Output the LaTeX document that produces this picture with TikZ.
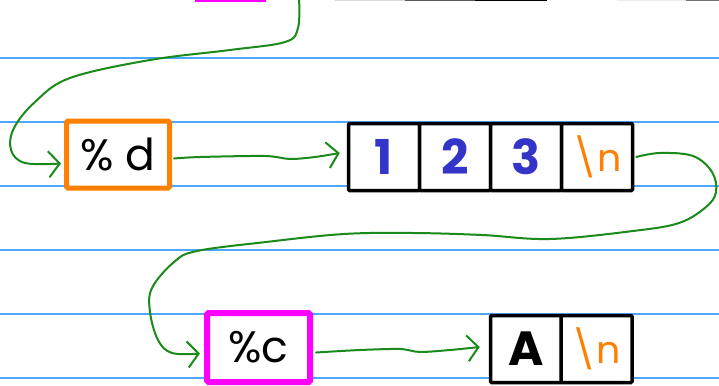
\documentclass[tikz,border=0pt]{standalone}
\usepackage{fontspec}
\setmainfont{Poppins}
\usetikzlibrary{arrows.meta}
\definecolor{ruleblue}{HTML}{4DA6FF}
\definecolor{orng}{HTML}{FF8000}
\definecolor{mag}{HTML}{FF00FF}
\definecolor{digblue}{HTML}{3434C8}
\definecolor{pen}{HTML}{1A8A1A}
\tikzset{
  fmtbox/.style={draw, fill=white, line width=5pt, rounded corners=1.5pt, minimum width=103pt, minimum height=67pt, inner sep=0pt, font=\fontsize{44}{44}\selectfont},
  cell/.style={draw=black, fill=white, line width=3.5pt, rounded corners=1pt, minimum width=71pt, minimum height=67pt, inner sep=0pt, font=\fontsize{48}{48}\selectfont\bfseries},
  nl/.style={text=orng, font=\fontsize{38}{38}\selectfont},
  conn/.style={draw=pen, line width=2pt, line cap=round, line join=round},
  tip/.style={-{Straight Barb[length=11pt,width=26pt,line width=2pt]}},
  ruling/.style={draw=ruleblue, line width=1.4pt}
}
\begin{document}
\begin{tikzpicture}[x=1pt,y=-1pt]
\useasboundingbox (0,0) rectangle (719,385);
\clip (0,0) rectangle (719,385);
\fill[white] (0,0) rectangle (719,385);
% ruled lines
\foreach \yy in {58,122,186,250,314,378} \draw[ruling] (0,\yy) -- (719,\yy);
% fragments of boxes above the picture
\fill[mag] (195,-3) rectangle (266,2);
\fill[black!15] (335,-3) rectangle (405,1.5);
\fill[black!65] (405,-3) rectangle (475,1.5);
\fill[black] (475,-3) rectangle (547,1.5);
\fill[black!7] (617,-3) rectangle (686,1.5);
\fill[black!55] (686,-3) rectangle (719,1.5);
% boxes
\node[fmtbox, draw=orng] (pd) at (118,154.5) {\% d};
\node[cell, text=digblue] (c1) at (384,157) {1};
\node[cell, text=digblue] (c2) at (455,157) {2};
\node[cell, text=digblue] (c3) at (526,157) {3};
\node[cell, nl] (c4) at (597,157) {\textbackslash n};
\node[fmtbox, draw=mag, line width=6pt, minimum height=69pt] (pc) at (258.5,347.5) {\%c};
\node[cell] (cA) at (526,349) {A};
\node[cell, nl] (cn) at (596.5,349) {\textbackslash n};
\coordinate (top) at (299,-2);
% connectors
\draw[conn, tip] plot[smooth, tension=0.6] coordinates {(top) (298,28) (285,42) (230,50) (150,60) (70,78) (35,102) (14,128) (11,150) (25,163) ([xshift=-3pt,yshift=-9pt]pd.west)};
\draw[conn, tip] plot[smooth, tension=0.5] coordinates {([xshift=2pt,yshift=-4pt]pd.east) (200,157) (265,156) (290,159) (315,157) ([xshift=-7pt,yshift=4pt]c1.west)};
\draw[conn, tip] plot[smooth, tension=0.6] coordinates {([xshift=2pt]c4.east) (660,153) (693,156) (712,172) (716,192) (706,207) (679,223) (633,231) (550,239) (482,235) (413,233) (344,234) (266,242) (197,251) (174,262) (152,288) (150,312) (158,340) (172,353) ([xshift=-4pt,yshift=-6pt]pc.west)};
\draw[conn, tip] plot[smooth, tension=0.5] coordinates {([xshift=3pt,yshift=-5pt]pc.east) (360,350) (400,349) (420,352) (450,350) ([xshift=-9pt,yshift=2pt]cA.west)};
\end{tikzpicture}
\end{document}
